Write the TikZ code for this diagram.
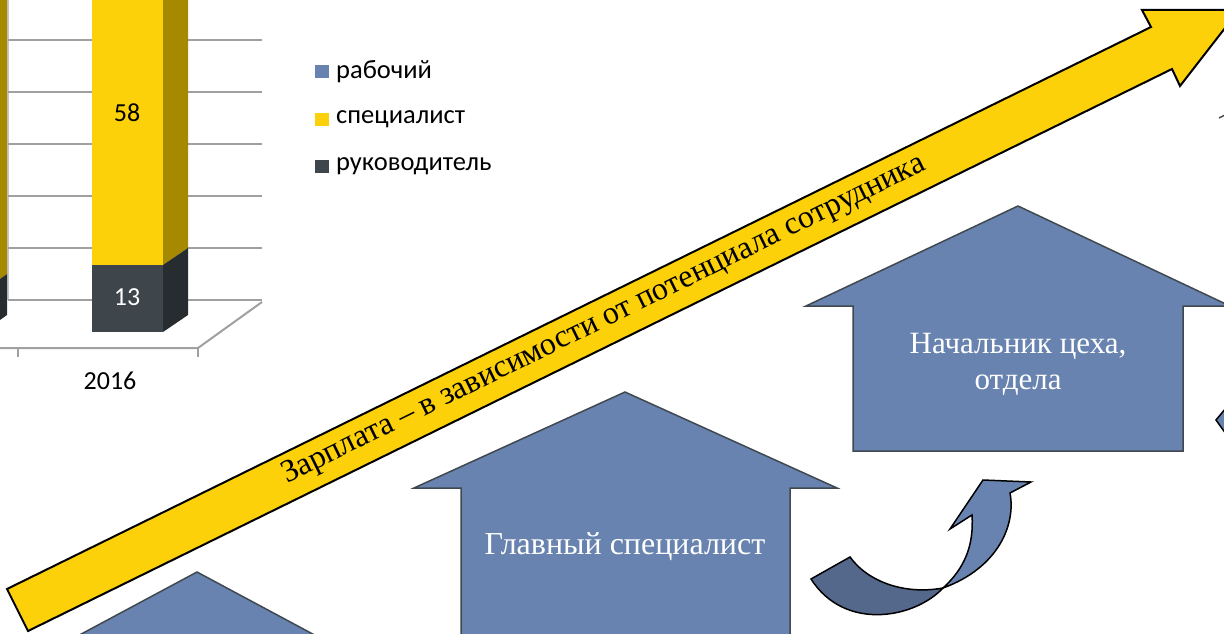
\documentclass[tikz,border=0pt]{standalone}
\usepackage{fontspec}
\setmainfont{Liberation Serif}
\newfontfamily\calfont{Carlito}
\definecolor{hblue}{RGB}{104,131,175}
\definecolor{hdark}{RGB}{84,104,140}
\definecolor{hborder}{RGB}{64,72,80}
\definecolor{yel}{RGB}{252,209,10}
\definecolor{dyel}{RGB}{166,137,0}
\definecolor{bardark}{RGB}{62,69,75}
\definecolor{barside}{RGB}{38,44,48}
\definecolor{gridc}{RGB}{160,160,160}
\tikzset{
  gridline/.style={draw=gridc, line width=2pt},
  house/.style={fill=hblue, draw=hborder, line width=1.5pt, line join=miter},
  bigarrow/.style={fill=yel, draw=black, line width=2pt, line join=miter},
  curvlight/.style={fill=hblue, draw=black, line width=1.5pt, line join=miter},
  curvdark/.style={fill=hdark, draw=black, line width=1.5pt, line join=miter},
  calib/.style={font=\calfont\fontsize{26}{30}\selectfont, inner sep=0pt},
  legtext/.style={calib, font=\calfont\fontsize{26.5}{30}\selectfont, anchor=west},
  housetext/.style={font=\fontsize{32}{36}\selectfont, text=white, align=center, inner sep=0pt},
  legbox/.style={inner sep=0pt, minimum width=14pt, minimum height=13pt}
}
\begin{document}
\begin{tikzpicture}[x=1pt,y=-1pt]
\useasboundingbox (0,0) rectangle (1224,634);
\clip (0,0) rectangle (1224,634);
% ---- chart
\draw[draw=gridc!60, line width=1.5pt] (8,0) -- (8,300);
\foreach \yy in {40,92,144,196,248,300} \draw[gridline] (8,\yy) -- (262,\yy);
\draw[gridline] (0,348) -- (198,348) -- (262,302);
\draw[gridline] (18,348) -- (18,357);
\draw[gridline] (198,348) -- (198,357);
% left bar (side only visible)
\fill[dyel] (0,0) -- (7,0) -- (7,274) -- (0,279) -- cycle;
\fill[barside] (0,279) -- (7,274) -- (7,315) -- (0,320) -- cycle;
% 2016 bar
\fill[yel] (92,0) rectangle (163,265);
\fill[dyel] (163,0) -- (188,0) -- (188,248) -- (163,265) -- cycle;
\fill[bardark] (92,265) rectangle (163,332);
\fill[barside] (163,265) -- (188,248) -- (188,315) -- (163,332) -- cycle;
\node[calib] (v58) at (127,113) {58};
\node[calib, text=white] (v13) at (127,297) {13};
\node[calib] (y2016) at (110,381) {2016};
% legend
\node[legbox, fill=hblue] (l1) at (322,72) {};
\node[legbox, fill=yel] (l2) at (322,119) {};
\node[legbox, fill=bardark] (l3) at (322,166) {};
\node[legtext] (t1) at (336,72) {рабочий};
\node[legtext] (t2) at (336,119) {специалист};
\node[legtext] (t3) at (336,166) {руководитель};
% ---- houses
\draw[house] (197,572) -- (322,639) -- (72,639) -- cycle;
\draw[house] (625,392) -- (837,488) -- (790,488) -- (790,650) -- (461,650) -- (461,488) -- (414,488) -- cycle;
\draw[house] (1018,206) -- (1230,306) -- (1183,306) -- (1183,451) -- (853,451) -- (853,306) -- (806,306) -- cycle;
\node[housetext] (h2) at (625,547) {Главный специалист};
\node[housetext, font=\fontsize{31}{36}\selectfont] (h3) at (1018,364) {Начальник цеха,\\отдела};
% ---- big arrow
\draw[bigarrow] (7,589) -- (1151,27) -- (1142,10) -- (1239,10) -- (1180,86) -- (1172,69) -- (28,631) -- cycle;
\node[font=\fontsize{32}{36}\selectfont, rotate=26.16, inner sep=0pt] (salary) at (604,320) {Зарплата – в зависимости от потенциала сотрудника};
% ---- curved arrow
\draw[curvdark] (811,579) -- (850,557) .. controls (868,582) and (905,595) .. (943,588)
   .. controls (915,618) and (845,632) .. (811,579) -- cycle;
\draw[curvlight] (943,588) .. controls (965,568) and (974,545) .. (972,515)
   -- (950,529) -- (983,480) -- (1031,482) -- (1010,493)
   .. controls (1016,525) and (998,568) .. (943,588) -- cycle;
% right-edge fragments
\draw[curvlight] (1216,420) -- (1226,408) -- (1226,434) -- cycle;
\draw[hborder, line width=1.5pt] (1219,118) -- (1225,115);
\end{tikzpicture}
\end{document}
